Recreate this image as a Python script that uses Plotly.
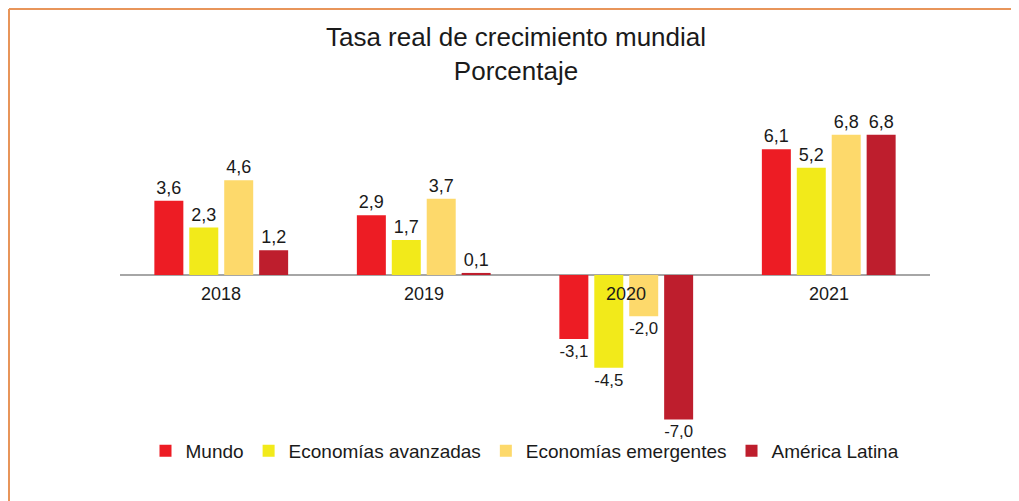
import plotly.graph_objects as go

categories = ["2018", "2019", "2020", "2021"]
series_names = ["Mundo", "Economías avanzadas", "Economías emergentes", "América Latina"]
mundo = [3.6, 2.9, -3.1, 6.1]
avanzadas = [2.3, 1.7, -4.5, 5.2]
emergentes = [4.6, 3.7, -2.0, 6.8]
america_latina = [1.2, 0.1, -7.0, 6.8]
colors = ["#ED1C24", "#F2EA1A", "#FDD96B", "#BE1E2D"]

# page is offset by the default 8px body margin
OFF = 8
W, H = 1019 - OFF, 501 - OFF
ML = 120 - OFF
MR = W - (930 - OFF)
MT = 110 - OFF
MB = H - (440 - OFF)
FONT = "Liberation Sans, Arial, sans-serif"

def fmt(v):
    return f"{v:.1f}".replace(".", ",")

fig = go.Figure()
for name, vals, col in zip(series_names, [mundo, avanzadas, emergentes, america_latina], colors):
    fig.add_trace(go.Bar(
        x=categories, y=vals, name=name,
        marker=dict(color=col, line=dict(width=0)),
        text=[fmt(v) for v in vals], textposition="outside",
        textfont=dict(size=18, color="#1a1a1a", family=FONT),
        cliponaxis=False,
    ))

for i, c in enumerate(categories):
    fig.add_annotation(x=i, y=0, xref="x", yref="y", text=c, showarrow=False,
                       yanchor="top", yshift=-7,
                       font=dict(size=18, color="#1a1a1a", family=FONT))

pw = W - ML - MR
ph = H - MT - MB
def px_x(p):
    return (p - OFF - ML) / pw
def px_y(p):
    return (H - MB - (p - OFF)) / ph

line_col = "#E8955A"
fig.add_shape(type="line", xref="paper", yref="paper",
              x0=px_x(9), x1=px_x(1019 + 10), y0=px_y(9), y1=px_y(9),
              line=dict(color=line_col, width=2))
fig.add_shape(type="line", xref="paper", yref="paper",
              x0=px_x(9), x1=px_x(9), y0=px_y(9), y1=px_y(501 + 10),
              line=dict(color=line_col, width=2))

fig.update_layout(
    width=W, height=H,
    margin=dict(l=ML, r=MR, t=MT, b=MB),
    paper_bgcolor="white", plot_bgcolor="white",
    barmode="group", bargap=0.31, bargroupgap=0.17,
    title=dict(text="Tasa real de crecimiento mundial<br>Porcentaje",
               x=(516 - OFF) / W, xref="container", xanchor="center",
               y=1 - 38 / H, yref="container", yanchor="top",
               font=dict(size=26, color="#1a1a1a", family=FONT)),
    xaxis=dict(type="category", range=[-0.5, len(categories) - 0.5],
               showticklabels=False, showgrid=False, showline=False,
               ticks="", zeroline=False),
    yaxis=dict(range=[-8, 8], showticklabels=False, showgrid=False,
               zeroline=True, zerolinecolor="#A6A6A6", zerolinewidth=1.5,
               showline=False, ticks=""),
    legend=dict(orientation="h", x=0.5, xanchor="center", y=px_y(451), yanchor="middle",
                font=dict(size=19, color="#1a1a1a", family=FONT),
                itemwidth=30, traceorder="normal", bgcolor="rgba(0,0,0,0)"),
    showlegend=True,
)

fig.write_html("out.html")
